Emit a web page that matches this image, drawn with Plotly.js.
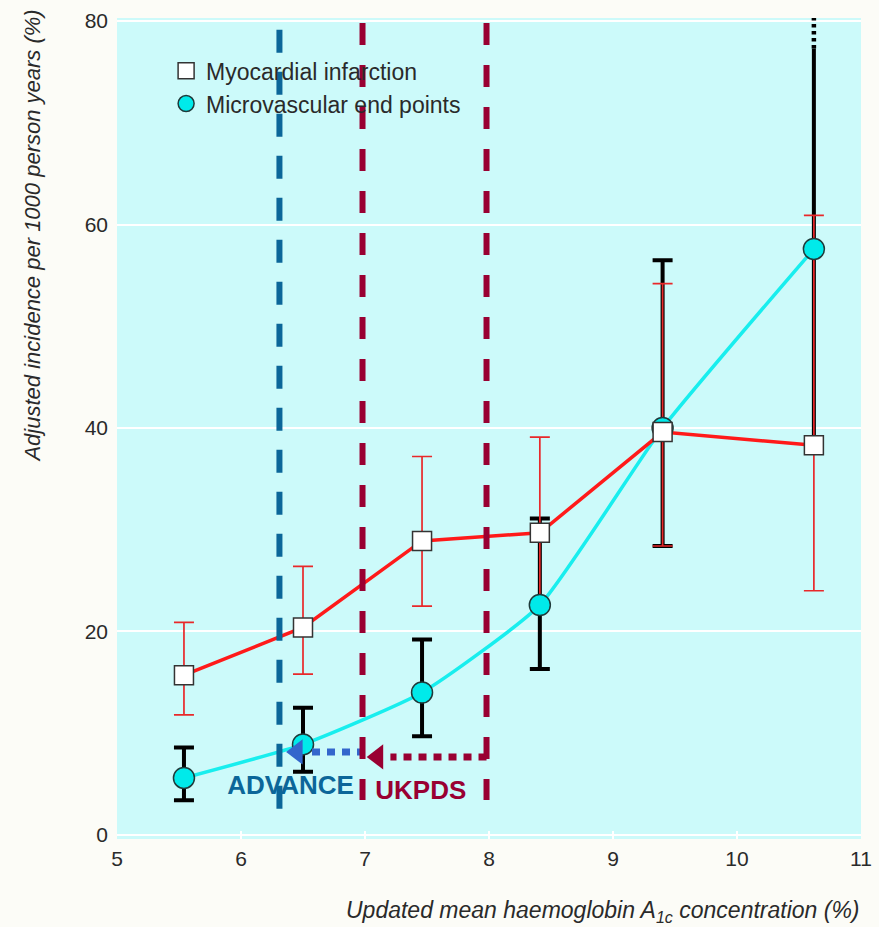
<!DOCTYPE html>
<html>
<head>
<meta charset="utf-8">
<script src="https://cdn.plot.ly/plotly-3.0.1.min.js"></script>
<style>html,body{margin:0;padding:0;background:#fcfcf7;}#chart{width:879px;height:927px;}</style>
</head>
<body>
<div id="chart"></div>
<script>
// ---- data ----
var hba1c = [5.54, 6.50, 7.46, 8.41, 9.40, 10.62];

var miValues = [15.7, 20.4, 28.9, 29.7, 39.6, 38.3];
var miUpper  = [20.9, 26.4, 37.2, 39.1, 54.2, 60.9];
var miLower  = [11.8, 15.8, 22.5, 22.7, 28.4, 24.0];

var mvValues = [5.6, 8.9, 14.0, 22.6, 40.0, 57.6];
var mvUpper  = [8.6, 12.5, 19.2, 31.1, 56.5, 77.3];
var mvLower  = [3.4, 6.2, 9.7, 16.3, 28.4, 39.3];
// the last microvascular upper limit runs off the scale (drawn dotted, no cap)
var mvOffScale = [false, false, false, false, false, true];
var mvOffScaleY = [77.3, 80.3];

var seriesNames = ['Myocardial infarction', 'Microvascular end points'];

// HbA1c targets of the trials
var advanceTarget = 6.31;
var ukpdsTargets = [6.98, 7.98];
var advanceSpan = [79.15, 2.46];
var ukpdsSpan = [79.8, 3.44];

// arrows (from -> to) and their heights
var ukpdsArrowX = [7.98, 7.0];
var ukpdsArrowY = 7.67;
var advanceArrowX = [7.0, 6.35];
var advanceArrowY = 8.16;

var trialLabels = ['ADVANCE', 'UKPDS'];
var trialLabelX = [6.40, 7.45];
var trialLabelY = [4.62, 4.13];

var xTicks = [5, 6, 7, 8, 9, 10, 11];
var yTicks = [0, 20, 40, 60, 80];

// ---- derived ----
function diff(a, b) { return a.map(function (v, i) { return +(v - b[i]).toFixed(3); }); }
function pick(arr, flags, want) { return arr.filter(function (_, i) { return flags[i] === want; }); }

var W = 879, H = 927, ML = 117, MR = 18, MT = 18, MB = 88;
var xRange = [5, 11];
var pxPerX = (W - ML - MR) / (xRange[1] - xRange[0]);
var arrowSize = 22;
var tipOffset = 1.155 * (arrowSize / 2) / pxPerX; // triangle tip lies left of marker centre

var RED = '#ff1a1a', CYAN = '#18eeee', DARKRED = '#990032', BLUE = '#0b6699', ARROWBLUE = '#3366cc';
var FONT = '"Liberation Sans", Arial, Helvetica, sans-serif';

var mvPlus = diff(mvUpper, mvValues), mvMinus = diff(mvValues, mvLower);
var lastX = pick(hba1c, mvOffScale, true)[0];

var traces = [
  { // microvascular line
    x: hba1c, y: mvValues, mode: 'lines', type: 'scatter', showlegend: false, hoverinfo: 'skip',
    line: { color: CYAN, width: 3.5, shape: 'spline', smoothing: 0.5 }
  },
  { // microvascular CI (capped)
    x: pick(hba1c, mvOffScale, false), y: pick(mvValues, mvOffScale, false), mode: 'none', type: 'scatter',
    showlegend: false, hoverinfo: 'skip',
    error_y: { type: 'data', symmetric: false, array: pick(mvPlus, mvOffScale, false), arrayminus: pick(mvMinus, mvOffScale, false),
      color: '#000000', thickness: 4, width: 10 }
  },
  { // microvascular CI running off the scale (no cap)
    x: pick(hba1c, mvOffScale, true), y: pick(mvValues, mvOffScale, true), mode: 'none', type: 'scatter',
    showlegend: false, hoverinfo: 'skip',
    error_y: { type: 'data', symmetric: false, array: pick(mvPlus, mvOffScale, true), arrayminus: pick(mvMinus, mvOffScale, true),
      color: '#000000', thickness: 4, width: 0 }
  },
  { // dotted continuation of CI
    x: [lastX, lastX], y: mvOffScaleY, mode: 'lines', type: 'scatter', showlegend: false, hoverinfo: 'skip',
    line: { color: '#000000', width: 4.5, dash: '3.5px,3.5px' }
  },
  { // MI line + CI
    x: hba1c, y: miValues, mode: 'lines', type: 'scatter', showlegend: false, hoverinfo: 'skip',
    line: { color: RED, width: 3.5 },
    error_y: { type: 'data', symmetric: false, array: diff(miUpper, miValues), arrayminus: diff(miValues, miLower),
      color: '#e8282a', thickness: 1.7, width: 10 }
  },
  { // microvascular markers
    x: hba1c, y: mvValues, mode: 'markers', type: 'scatter', name: seriesNames[1], legendrank: 2,
    marker: { symbol: 'circle', size: 21, color: '#00eaea', line: { color: '#1f3a3a', width: 1.5 } }
  },
  { // MI markers
    x: hba1c, y: miValues, mode: 'markers', type: 'scatter', name: seriesNames[0], legendrank: 1,
    marker: { symbol: 'square', size: 19, color: '#ffffff', line: { color: '#333333', width: 1.5 } }
  },
  { // trial labels
    x: trialLabelX, y: trialLabelY, mode: 'text', type: 'scatter', showlegend: false, hoverinfo: 'skip',
    text: trialLabels,
    textfont: { family: FONT, size: 26, color: [BLUE, DARKRED], weight: 'bold' }
  },
  { // UKPDS dotted arrow shaft
    x: [ukpdsArrowX[0], ukpdsArrowX[1] + 2 * tipOffset], y: [ukpdsArrowY, ukpdsArrowY],
    mode: 'lines', type: 'scatter', showlegend: false, hoverinfo: 'skip',
    line: { color: DARKRED, width: 7, dash: '8px,7px' }
  },
  { // ADVANCE dotted arrow shaft
    x: [advanceArrowX[0], advanceArrowX[1] + 2 * tipOffset], y: [advanceArrowY, advanceArrowY],
    mode: 'lines', type: 'scatter', showlegend: false, hoverinfo: 'skip',
    line: { color: ARROWBLUE, width: 7, dash: '8px,7px' }
  },
  { // arrow heads
    x: [ukpdsArrowX[1] + tipOffset, advanceArrowX[1] + tipOffset], y: [ukpdsArrowY, advanceArrowY],
    mode: 'markers', type: 'scatter', showlegend: false, hoverinfo: 'skip',
    marker: { symbol: 'triangle-left', size: arrowSize, color: [DARKRED, ARROWBLUE], line: { width: 0 } }
  },
  { // ADVANCE target
    x: [advanceTarget, advanceTarget], y: advanceSpan, mode: 'lines', type: 'scatter', showlegend: false, hoverinfo: 'skip',
    line: { color: BLUE, width: 6, dash: '23px,19px' }
  },
  { // UKPDS lower bound
    x: [ukpdsTargets[0], ukpdsTargets[0]], y: ukpdsSpan, mode: 'lines', type: 'scatter', showlegend: false, hoverinfo: 'skip',
    line: { color: DARKRED, width: 6, dash: '22px,20px' }
  },
  { // UKPDS upper bound
    x: [ukpdsTargets[1], ukpdsTargets[1]], y: ukpdsSpan, mode: 'lines', type: 'scatter', showlegend: false, hoverinfo: 'skip',
    line: { color: DARKRED, width: 6, dash: '22px,20px' }
  }
];

var layout = {
  width: W, height: H,
  margin: { l: ML, r: MR, t: MT, b: MB, pad: 0 },
  paper_bgcolor: '#fcfcf7',
  plot_bgcolor: '#ccfafa',
  font: { family: FONT, size: 21, color: '#2a2a2a' },
  showlegend: true,
  legend: {
    x: 0.066, y: 0.962, xanchor: 'left', yanchor: 'top',
    bgcolor: 'rgba(0,0,0,0)', borderwidth: 0,
    font: { family: FONT, size: 23, color: '#2a2a2a' },
    tracegroupgap: 0
  },
  xaxis: {
    range: xRange, tickvals: xTicks, ticktext: xTicks.map(String),
    showgrid: false, zeroline: false, showline: false,
    ticks: 'inside', ticklen: 8, tickwidth: 2, tickcolor: '#ffffff',
    ticklabelstandoff: 5,
    tickfont: { family: FONT, size: 21, color: '#2a2a2a' }
  },
  yaxis: {
    range: [-0.4, 80.3], tickvals: yTicks, ticktext: yTicks.map(String),
    showgrid: true, gridcolor: '#ffffff', gridwidth: 2,
    zeroline: false, showline: false, ticks: '',
    ticklabelstandoff: 8,
    tickfont: { family: FONT, size: 21, color: '#2a2a2a' }
  },
  annotations: [
    {
      text: 'Adjusted incidence per 1000 person years (%)', textangle: -90,
      xref: 'paper', yref: 'paper', x: -0.114, y: 0.734, xanchor: 'center', yanchor: 'middle',
      showarrow: false, font: { family: FONT, size: 22, color: '#2a2a2a', style: 'italic' }
    },
    {
      text: 'Updated mean haemoglobin A<sub>1c</sub> concentration (%)',
      xref: 'paper', yref: 'paper', x: 1.001, y: -0.088, xanchor: 'right', yanchor: 'middle',
      showarrow: false, font: { family: FONT, size: 23, color: '#2a2a2a', style: 'italic' }
    }
  ]
};

Plotly.newPlot('chart', traces, layout, { displayModeBar: false, staticPlot: true });
</script>
</body>
</html>
